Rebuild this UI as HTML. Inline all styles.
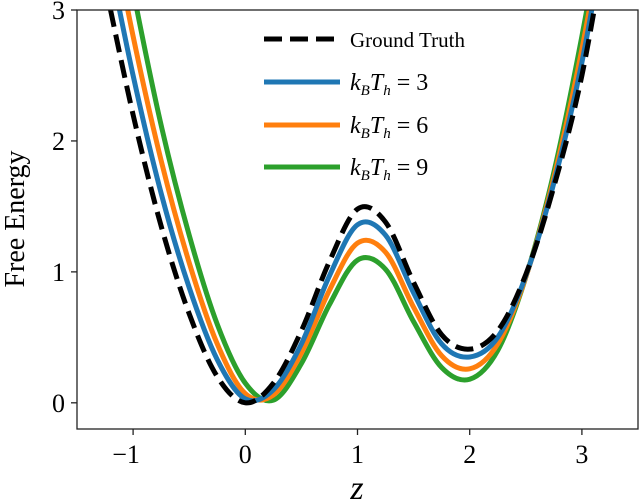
<!DOCTYPE html>
<html><head><meta charset="utf-8"><style>
html,body{margin:0;padding:0;background:#fff;}
svg{display:block;font-family:"Liberation Serif",serif;}
</style></head><body>
<svg id="chart" width="640" height="504" viewBox="0 0 640 504">
<defs><clipPath id="clip"><rect x="77" y="10" width="561" height="419"/></clipPath></defs>
<g id="curves" clip-path="url(#clip)"></g>
<rect x="77" y="10" width="561" height="419" fill="none" stroke="#222" stroke-width="1.3"/>
<g id="ticks"></g>
<text x="0" y="0" transform="translate(24,219) rotate(-90)" text-anchor="middle" font-size="28">Free Energy</text>
<text x="357" y="499" text-anchor="middle" font-size="34" font-style="italic">z</text>
<g font-size="21">
<line x1="264" y1="39" x2="340" y2="39" stroke="#000" stroke-width="5" stroke-dasharray="18,8"/>
<text x="350" y="47">Ground Truth</text>
<line x1="264" y1="82" x2="340" y2="82" stroke="#1f77b4" stroke-width="5"/>
<text x="350" y="90" font-size="24"><tspan font-style="italic">k</tspan><tspan font-size="15" font-style="italic" dy="5">B</tspan><tspan font-style="italic" dy="-5">T</tspan><tspan font-size="15" font-style="italic" dy="5">h</tspan><tspan dy="-5"> = 3</tspan></text>
<line x1="264" y1="125" x2="340" y2="125" stroke="#ff7f0e" stroke-width="5"/>
<text x="350" y="133" font-size="24"><tspan font-style="italic">k</tspan><tspan font-size="15" font-style="italic" dy="5">B</tspan><tspan font-style="italic" dy="-5">T</tspan><tspan font-size="15" font-style="italic" dy="5">h</tspan><tspan dy="-5"> = 6</tspan></text>
<line x1="264" y1="167" x2="340" y2="167" stroke="#2ca02c" stroke-width="5"/>
<text x="350" y="175" font-size="24"><tspan font-style="italic">k</tspan><tspan font-size="15" font-style="italic" dy="5">B</tspan><tspan font-style="italic" dy="-5">T</tspan><tspan font-size="15" font-style="italic" dy="5">h</tspan><tspan dy="-5"> = 9</tspan></text>
</g>
</svg>
<script>
const zValues = [-1.25,-1,-0.75,-0.5,-0.25,0,0.25,0.5,0.75,1,1.25,1.5,1.75,2,2.25,2.5,2.75,3,3.25];
const groundTruth = [3.2,2.2,1.35,0.68,0.2,0,0.15,0.55,1.08,1.48,1.38,0.92,0.52,0.41,0.55,0.98,1.65,2.5,3.7];
const kt3 = [3.55,2.5,1.6,0.88,0.33,0.03,0.1,0.45,0.97,1.36,1.28,0.84,0.45,0.35,0.5,0.97,1.68,2.6,3.8];
const kt6 = [3.9,2.8,1.85,1.07,0.45,0.07,0.06,0.38,0.86,1.22,1.15,0.73,0.36,0.26,0.45,0.96,1.72,2.7,3.9];
const kt9 = [4.3,3.15,2.12,1.28,0.6,0.15,0.02,0.3,0.75,1.09,1.02,0.62,0.27,0.18,0.4,0.96,1.76,2.8,4.0];
const xTicks = [-1,0,1,2,3];
const yTicks = [0,1,2,3];

const NS = "http://www.w3.org/2000/svg";
const xMin=-1.5,xMax=3.5,yMin=-0.2,yMax=3;
const L=77,R=638,T=10,B=429;
function sx(v){return L+(v-xMin)/(xMax-xMin)*(R-L);}
function sy(v){return B-(v-yMin)/(yMax-yMin)*(B-T);}

function pathFor(ys){
  const p=zValues.map((z,i)=>[sx(z),sy(ys[i])]);
  let d="M"+p[0][0]+","+p[0][1];
  for(let i=0;i<p.length-1;i++){
    const p0=p[Math.max(i-1,0)],p1=p[i],p2=p[i+1],p3=p[Math.min(i+2,p.length-1)];
    const c1=[p1[0]+(p2[0]-p0[0])/6,p1[1]+(p2[1]-p0[1])/6];
    const c2=[p2[0]-(p3[0]-p1[0])/6,p2[1]-(p3[1]-p1[1])/6];
    d+=" C"+c1+" "+c2+" "+p2;
  }
  return d;
}
const g=document.getElementById("curves");
function addSeries(ys,color,dash,name){
  const el=document.createElementNS(NS,"path");
  el.setAttribute("d",pathFor(ys));
  el.setAttribute("fill","none");
  el.setAttribute("stroke",color);
  el.setAttribute("stroke-width","5");
  if(dash)el.setAttribute("stroke-dasharray",dash);
  
  
  g.appendChild(el);
}
addSeries(kt9,"#2ca02c",null,"series-kt9");
addSeries(kt6,"#ff7f0e",null,"series-kt6");
addSeries(kt3,"#1f77b4",null,"series-kt3");
addSeries(groundTruth,"#000","18,8","series-ground-truth");

const tg=document.getElementById("ticks");
xTicks.forEach(v=>{
  const x=sx(v);
  const ln=document.createElementNS(NS,"line");
  ln.setAttribute("x1",x);ln.setAttribute("x2",x);ln.setAttribute("y1",B);ln.setAttribute("y2",B+6);
  ln.setAttribute("stroke","#222");ln.setAttribute("stroke-width","1.3");
  
  
  tg.appendChild(ln);
  const t=document.createElementNS(NS,"text");
  t.setAttribute("x",x-(v<0?7:0));t.setAttribute("y",463);t.setAttribute("text-anchor","middle");t.setAttribute("font-size","26");
  t.textContent=v<0?"\u2212"+Math.abs(v):String(v);
  
  
  tg.appendChild(t);
});
yTicks.forEach(v=>{
  const y=sy(v);
  const ln=document.createElementNS(NS,"line");
  ln.setAttribute("x1",L-6);ln.setAttribute("x2",L);ln.setAttribute("y1",y);ln.setAttribute("y2",y);
  ln.setAttribute("stroke","#222");ln.setAttribute("stroke-width","1.3");
  
  
  tg.appendChild(ln);
  const t=document.createElementNS(NS,"text");
  t.setAttribute("x",L-12);t.setAttribute("y",y+9);t.setAttribute("text-anchor","end");t.setAttribute("font-size","26");
  t.textContent=String(v);
  
  
  tg.appendChild(t);
});
</script>
</body></html>
